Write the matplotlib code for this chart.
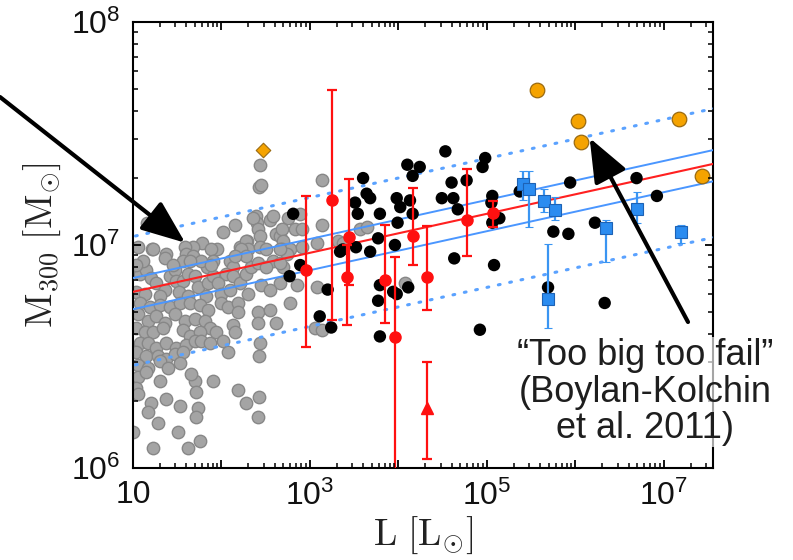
import numpy as np
import matplotlib
matplotlib.use('Agg')
import matplotlib.pyplot as plt
from matplotlib.ticker import FixedLocator, NullFormatter, FuncFormatter

plt.rcParams['font.family'] = ['Liberation Sans', 'DejaVu Sans']
plt.rcParams['mathtext.fontset'] = 'custom'
plt.rcParams['mathtext.rm'] = 'Liberation Sans'
plt.rcParams['mathtext.it'] = 'Liberation Sans:italic'
plt.rcParams['mathtext.bf'] = 'Liberation Sans:bold'
for a in ('xtick', 'ytick'):
    plt.rcParams[a + '.direction'] = 'in'
    plt.rcParams[a + '.major.size'] = 6
    plt.rcParams[a + '.minor.size'] = 3.5
    plt.rcParams[a + '.major.width'] = 1.3
    plt.rcParams[a + '.minor.width'] = 1.1
    plt.rcParams[a + '.major.pad'] = 9
    plt.rcParams[a + '.labelsize'] = 23
    plt.rcParams[a + '.color'] = 'black'
    plt.rcParams[a + '.labelcolor'] = '#111111'
plt.rcParams['xtick.top'] = True
plt.rcParams['ytick.right'] = True
plt.rcParams['axes.linewidth'] = 1.5

# all values are log10(L / Lsun), log10(M300 / Msun)
gray_points = np.array([
    (2.43, 7.36), (2.42, 7.26), (2.45, 7.27), (2.02, 7.06), (2.15, 7.09), (1.16, 7.10),
    (2.39, 7.13), (2.40, 7.10), (2.55, 7.11), (2.58, 7.13), (2.62, 7.05), (2.66, 7.04),
    (3.14, 7.29), (2.75, 7.12), (2.89, 7.14), (2.83, 7.07), (2.91, 7.07), (3.14, 7.09),
    (2.68, 7.07), (2.69, 7.02), (2.68, 6.98), (2.77, 6.98), (2.91, 6.99), (3.32, 7.02),
    (3.37, 7.01), (3.56, 7.07), (3.64, 7.08), (2.69, 6.90), (2.85, 6.82), (3.08, 6.81),
    (4.07, 6.83), (2.77, 6.74), (3.06, 6.63), (3.14, 6.62), (2.36, 7.12), (2.41, 7.07),
    (2.44, 7.04), (2.29, 7.02), (1.78, 7.01), (1.68, 6.99), (1.59, 6.99), (1.06, 6.99),
    (1.21, 6.98), (1.95, 6.98), (2.21, 6.99), (2.24, 6.96), (2.74, 6.96), (3.08, 7.01),
    (1.37, 6.96), (1.36, 6.94), (1.60, 6.96), (1.56, 6.93), (1.68, 6.95), (1.88, 6.98),
    (1.90, 6.93), (1.84, 6.90), (2.28, 7.02), (2.30, 6.98), (2.44, 6.99), (2.50, 6.98),
    (2.10, 6.93), (2.13, 6.90), (2.05, 6.87),
    (1.08, 6.87), (1.15, 6.89), (1.20, 6.85), (1.26, 6.83), (1.36, 6.80), (1.42, 6.86),
    (1.47, 6.89), (1.49, 6.84), (1.56, 6.84), (1.62, 6.87), (1.70, 6.86), (1.73, 6.81),
    (1.85, 6.83), (1.90, 6.86), (1.96, 6.83), (1.99, 6.78), (2.10, 6.80), (2.13, 6.86),
    (2.21, 6.83), (2.28, 6.87), (2.33, 6.90), (2.41, 6.92), (2.22, 6.98), (2.28, 6.95),
    (2.15, 6.95), (1.77, 6.93), (1.88, 6.91), (1.64, 6.93), (1.45, 6.91), (1.23, 6.98),
    (1.11, 6.93), (1.03, 6.91), (2.66, 6.98), (2.58, 6.93), (2.50, 6.90), (2.66, 6.92),
    (2.66, 6.83),
    (1.03, 6.79), (1.14, 6.78), (1.30, 6.77), (1.52, 6.79), (1.62, 6.77), (1.82, 6.77),
    (2.00, 6.74), (2.30, 6.78), (2.45, 6.82), (2.55, 6.80),
    (1.08, 6.74), (1.19, 6.72), (1.31, 6.73), (1.42, 6.72), (1.53, 6.74), (1.64, 6.74),
    (1.76, 6.73), (1.85, 6.71), (1.06, 6.69), (1.17, 6.66), (1.26, 6.68), (1.36, 6.65),
    (1.47, 6.69), (1.59, 6.66), (1.70, 6.67), (1.81, 6.66), (1.87, 6.63), (1.03, 6.63),
    (1.14, 6.61), (1.23, 6.61), (1.34, 6.63), (1.56, 6.62), (1.64, 6.59), (1.76, 6.61),
    (1.08, 6.56), (1.17, 6.56), (1.26, 6.54), (1.37, 6.56), (1.49, 6.54), (1.60, 6.55),
    (1.70, 6.57), (1.77, 6.57), (1.87, 6.56), (1.03, 6.52), (1.15, 6.50), (1.28, 6.50),
    (1.37, 6.49), (1.47, 6.51), (1.56, 6.52), (1.06, 6.46), (1.17, 6.45), (1.31, 6.48),
    (1.40, 6.45), (1.53, 6.47), (1.06, 6.41), (1.15, 6.43),
    (2.07, 6.72), (2.19, 6.74), (2.19, 6.70), (2.41, 6.70), (2.55, 6.71), (2.41, 6.65),
    (2.62, 6.65), (2.13, 6.64), (2.15, 6.61), (1.94, 6.61), (2.02, 6.57), (2.07, 6.52),
    (2.44, 6.56), (2.42, 6.50),
    (1.90, 6.39), (1.70, 6.39), (1.66, 6.42), (1.71, 6.34), (2.19, 6.35), (2.28, 6.29),
    (2.42, 6.32), (2.41, 6.23), (1.31, 6.39), (1.03, 6.36), (1.06, 6.33), (1.37, 6.31),
    (1.20, 6.29), (1.17, 6.25), (1.53, 6.28), (1.73, 6.27), (1.71, 6.23), (1.28, 6.20),
    (1.51, 6.16), (1.76, 6.12), (1.62, 6.09), (1.23, 6.09), (1.00, 6.16),
])

black_points = np.array([
    (2.81, 7.14), (2.77, 6.86), (2.89, 6.91), (3.11, 6.68), (3.20, 6.80), (3.24, 6.63),
    (3.34, 6.97), (3.37, 6.98), (3.52, 6.99), (3.51, 7.19), (3.54, 7.14), (3.60, 7.30),
    (3.64, 7.23), (3.68, 7.21), (3.68, 6.97), (3.77, 7.03), (3.79, 7.14), (3.96, 7.00),
    (3.77, 6.75), (3.79, 6.82), (3.79, 6.59), (3.94, 6.79), (3.98, 7.21), (4.02, 7.17),
    (4.13, 7.20), (4.16, 7.14), (3.99, 7.10), (4.10, 7.36), (4.24, 7.35), (4.16, 7.31),
    (4.11, 6.81), (3.98, 6.78), (4.53, 7.42), (4.98, 7.39), (4.95, 7.35), (4.60, 7.28),
    (4.77, 7.29), (4.49, 7.21), (4.62, 7.21), (4.67, 7.16), (5.06, 7.22), (5.05, 7.19),
    (5.14, 7.12), (5.06, 7.10), (5.37, 7.24), (5.94, 7.28), (5.75, 7.06), (5.92, 7.05),
    (6.22, 7.10), (6.69, 7.30), (6.92, 7.22), (4.63, 6.94), (5.08, 6.91), (4.92, 6.62),
    (5.69, 6.81), (6.33, 6.74),
])

red_logL = [2.95, 3.25, 3.44, 3.42, 3.85, 4.16, 3.96, 4.32, 4.77, 5.07]
red_logM = [6.888, 7.202, 7.036, 6.857, 6.843, 7.040, 6.587, 6.857, 7.112, 7.143]
red_hi = [7.220, 7.695, 7.296, 7.000, 7.090, 7.256, 6.946, 7.085, 7.341, 7.197]
red_lo = [6.543, 6.664, 6.821, 6.641, 6.650, 6.910, 5.000, 6.709, 6.951, 7.081]

tri_logL = [4.32]
tri_logM = [6.269]
tri_hi = [6.475]
tri_lo = [6.040]

blue_logL = [5.41, 5.47, 5.64, 5.77, 5.69, 6.35, 6.69, 7.19]
blue_logM = [7.274, 7.251, 7.197, 7.157, 6.758, 7.076, 7.161, 7.058]
blue_hi = [7.332, 7.332, 7.251, 7.215, 7.004, 7.112, 7.238, 7.090]
blue_lo = [7.202, 7.081, 7.148, 7.112, 6.628, 6.924, 7.099, 7.009]

orange_logL = [5.565, 6.03, 6.06, 7.17, 7.43]
orange_logM = [7.695, 7.556, 7.462, 7.565, 7.309]
diamond_logL = [2.47]
diamond_logM = [7.426]

# fit: log M300 = fit_a + fit_b * (log L - 1)
fit_a = 6.79
fit_b = 0.0875
solid_offsets = [0.062, -0.078]
dotted_offsets = [0.248, -0.330]

xlim = (10, 3.58e7)
ylim = (1e6, 1e8)

fig = plt.figure(figsize=(7.93, 5.60), dpi=100)
ax = fig.add_axes([0.1677, 0.1643, 0.7314, 0.7964])
ax.set_xscale('log')
ax.set_yscale('log')

ax.scatter(10**gray_points[:, 0], 10**gray_points[:, 1], s=80, c='#a4a4a4',
           edgecolors='#878787', linewidths=1.0, zorder=2)

lx = np.linspace(0.9, 7.7, 50)
fit = fit_a + fit_b * (lx - 1)
for off in dotted_offsets:
    ax.plot(10**lx, 10**(fit + off), color='#5aa2ff', lw=2.2, ls=(0, (0.6, 3.2)),
            dash_capstyle='round', zorder=3)
for off in solid_offsets:
    ax.plot(10**lx, 10**(fit + off), color='#4a96ff', lw=1.4, zorder=3)
ax.plot(10**lx, 10**fit, color='#ff2020', lw=1.5, zorder=3)

ax.scatter(10**black_points[:, 0], 10**black_points[:, 1], s=80, c='black',
           edgecolors='none', zorder=4)

rm = 10**np.array(red_logM)
ax.errorbar(10**np.array(red_logL), rm,
            yerr=[rm - 10**np.array(red_lo), 10**np.array(red_hi) - rm],
            fmt='o', color='#ff1010', ms=8, capsize=3.5, elinewidth=1.6,
            capthick=1.6, zorder=5)
tm = 10**np.array(tri_logM)
ax.errorbar(10**np.array(tri_logL), tm,
            yerr=[tm - 10**np.array(tri_lo), 10**np.array(tri_hi) - tm],
            fmt='^', color='#ff1010', ms=8, capsize=3.5, elinewidth=1.6,
            capthick=1.6, zorder=5)

bm = 10**np.array(blue_logM)
ax.errorbar(10**np.array(blue_logL), bm,
            yerr=[bm - 10**np.array(blue_lo), 10**np.array(blue_hi) - bm],
            fmt='s', color='#2b8cf0', mec='#1d62b5', mew=0.8, ecolor='#3a95f2',
            ms=8, capsize=3, elinewidth=1.6, capthick=1.6, zorder=6)

ax.scatter(10**np.array(orange_logL), 10**np.array(orange_logM), s=110,
           c='#f5a300', edgecolors='#9a6a10', linewidths=0.9, zorder=7)
ax.scatter(10**np.array(diamond_logL), 10**np.array(diamond_logM), s=55,
           marker='D', c='#f5a300', edgecolors='#9a6a10', linewidths=0.8, zorder=7)

ax.set_xlim(*xlim)
ax.set_ylim(*ylim)

x_labels = {1: '10', 3: r'$10^3$', 5: r'$10^5$', 7: r'$10^7$'}
ax.xaxis.set_major_locator(FixedLocator(10.0**np.arange(1, 8)))
ax.xaxis.set_major_formatter(FuncFormatter(
    lambda v, p: x_labels.get(int(round(np.log10(v))), '')))
ax.xaxis.set_minor_locator(FixedLocator(
    [m * 10.0**e for e in range(1, 8) for m in range(2, 10) if m * 10.0**e < xlim[1]]))
ax.xaxis.set_minor_formatter(NullFormatter())

ax.yaxis.set_major_locator(FixedLocator([1e6, 1e7, 1e8]))
ax.yaxis.set_major_formatter(FuncFormatter(
    lambda v, p: r'$10^{%d}$' % int(round(np.log10(v)))))
ax.yaxis.set_minor_locator(FixedLocator(
    [m * 10.0**e for e in range(6, 8) for m in range(2, 10)]))
ax.yaxis.set_minor_formatter(NullFormatter())
ax.xaxis.set_zorder(9)
ax.yaxis.set_zorder(9)

ax.set_xlabel(r'$\mathrm{L}\ [\mathrm{L}_{\odot}]$', fontsize=27, math_fontfamily='cm',
              color='#222222', labelpad=2)
ax.set_ylabel(r'$\mathrm{M}_{300}\ [\mathrm{M}_{\odot}]$', fontsize=27,
              math_fontfamily='cm', color='#222222', labelpad=6)

ax.annotate('', xy=(10**1.59, 10**7.01), xycoords='data',
            xytext=(0.0, 1 - 97 / 560), textcoords='figure fraction',
            arrowprops=dict(arrowstyle='-|>,head_length=0.9,head_width=0.36',
                            mutation_scale=30, lw=3, color='black',
                            shrinkA=0, shrinkB=0),
            annotation_clip=False, zorder=10)
ax.annotate('', xy=(10**6.16, 10**7.48), xycoords='data',
            xytext=(688 / 793, 1 - 322 / 560), textcoords='figure fraction',
            arrowprops=dict(arrowstyle='-|>,head_length=0.9,head_width=0.36',
                            mutation_scale=30, lw=3, color='black',
                            shrinkA=0, shrinkB=0),
            annotation_clip=False, zorder=10)

fig.text(645 / 793, 1 - 392 / 560, '\u201cToo big too fail\u201d\n(Boylan-Kolchin\net al. 2011)',
         ha='center', va='center', multialignment='center', fontsize=26,
         linespacing=1.05, color='#1e1e1e', zorder=11,
         bbox=dict(fc='white', ec='none', alpha=0.65, pad=1))

fig.canvas.draw()
fig.savefig('out.png', dpi=100)
